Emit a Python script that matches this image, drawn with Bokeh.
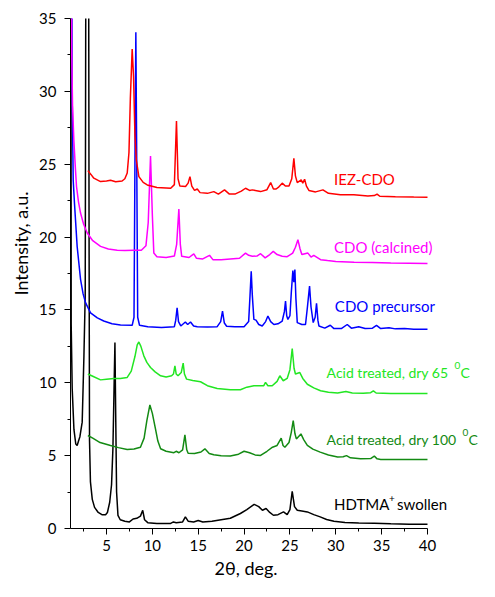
from bokeh.plotting import figure
from bokeh.models import Range1d, FixedTicker, Label, Title
from bokeh.embed import file_html
from bokeh.resources import INLINE

# ---- data ----
hdtma_x = [1.1, 1.15, 1.26, 1.45, 1.65, 1.8, 1.95, 2.1, 2.35, 2.54, 2.68, 2.75, 2.9, 3.05, 3.1, 3.15, 3.25, 3.45, 3.7, 4.1, 4.5, 4.9, 5.1, 5.35, 5.55, 5.7, 5.85, 5.92, 6.0, 6.1, 6.25, 6.5, 7.0, 7.5, 7.9, 8.3, 8.7, 8.95, 9.15, 9.5, 10.5, 12.0, 12.3, 12.6, 13.3, 13.6, 13.9, 14.5, 15.0, 15.5, 16.5, 17.5, 18.5, 19.6, 20.3, 21.1, 21.6, 22.0, 22.4, 22.8, 23.2, 23.7, 24.3, 24.7, 25.0, 25.25, 25.5, 25.8, 26.3, 26.9, 27.6, 28.3, 29.0, 29.8, 31.0, 32.5, 34.2, 36.0, 38.0, 40.0]
hdtma_y = [60, 14.0, 9.6, 6.8, 5.8, 5.7, 6.0, 6.3, 7.3, 11.85, 16.0, 40, 70, 40, 20, 6.0, 3.2, 2.0, 1.45, 1.1, 0.95, 0.95, 1.1, 1.8, 3.0, 5.5, 10.5, 12.76, 8.0, 2.5, 0.9, 0.6, 0.5, 0.45, 0.65, 0.7, 0.85, 1.25, 0.6, 0.4, 0.35, 0.35, 0.45, 0.4, 0.45, 0.8, 0.5, 0.45, 0.55, 0.45, 0.5, 0.6, 0.7, 1.03, 1.3, 1.66, 1.5, 1.25, 1.37, 1.1, 0.91, 0.95, 1.14, 0.95, 1.3, 2.55, 1.5, 1.25, 1.2, 1.14, 0.95, 0.8, 0.62, 0.5, 0.42, 0.38, 0.36, 0.32, 0.3, 0.3]

acid100_x = [2.97, 3.5, 4.3, 5.44, 6.3, 7.26, 8.0, 8.7, 9.1, 9.4, 9.73, 10.0, 10.34, 10.6, 10.9, 11.5, 12.35, 12.6, 12.9, 13.3, 13.55, 13.75, 13.9, 14.6, 15.3, 15.73, 16.2, 16.7, 17.5, 18.5, 19.4, 20.0, 20.6, 21.2, 21.8, 22.5, 23.1, 23.6, 24.05, 24.25, 24.45, 24.9, 25.15, 25.36, 25.55, 25.7, 26.2, 26.5, 26.9, 27.5, 28.3, 29.2, 30.2, 30.8, 31.17, 31.6, 32.7, 33.8, 34.2, 34.5, 34.9, 37.0, 40.0]
acid100_y = [6.38, 6.2, 5.9, 5.7, 5.55, 5.42, 5.45, 5.58, 6.2, 7.4, 8.48, 7.9, 6.84, 6.0, 5.47, 5.3, 5.2, 5.3, 5.2, 5.4, 6.43, 5.4, 5.17, 5.15, 5.25, 5.47, 5.15, 5.06, 5.0, 4.97, 5.1, 5.3, 5.2, 5.05, 5.01, 5.3, 5.58, 5.7, 6.2, 5.7, 5.58, 5.9, 6.6, 7.4, 6.5, 6.15, 6.49, 6.1, 5.7, 5.45, 5.24, 5.05, 4.9, 4.92, 5.0, 4.85, 4.78, 4.8, 4.97, 4.78, 4.74, 4.74, 4.74]

acid65_x = [2.97, 3.5, 4.35, 5.0, 5.8, 6.5, 7.26, 7.7, 8.1, 8.35, 8.53, 8.75, 9.07, 9.4, 9.8, 10.3, 10.9, 11.5, 12.1, 12.3, 12.46, 12.6, 12.8, 13.15, 13.36, 13.5, 13.73, 14.4, 15.25, 16.0, 17.07, 18.5, 19.6, 20.3, 21.07, 21.8, 22.15, 22.34, 22.6, 23.07, 23.6, 23.9, 24.27, 24.7, 25.0, 25.25, 25.45, 25.6, 26.08, 26.4, 26.9, 27.6, 28.34, 29.2, 30.2, 31.1, 31.8, 33.0, 33.8, 34.1, 34.4, 36.0, 38.0, 40.0]
acid65_y = [10.6, 10.45, 10.2, 10.25, 10.3, 10.3, 10.37, 10.8, 11.8, 12.6, 12.8, 12.5, 11.85, 11.4, 11.05, 10.75, 10.48, 10.4, 10.48, 10.6, 11.16, 10.6, 10.48, 10.7, 11.35, 10.6, 10.25, 10.15, 10.07, 9.8, 9.61, 9.52, 9.52, 9.7, 9.8, 9.8, 9.8, 10.03, 9.8, 9.8, 10.1, 10.48, 10.14, 10.3, 10.9, 12.35, 11.0, 10.6, 10.7, 10.3, 9.9, 9.65, 9.45, 9.35, 9.3, 9.4, 9.3, 9.28, 9.32, 9.45, 9.3, 9.27, 9.27, 9.27]

prec_x = [1.15, 1.25, 1.37, 1.51, 1.8, 2.17, 2.45, 2.71, 3.26, 4.0, 4.7, 5.6, 6.53, 7.8, 8.0, 8.1, 8.2, 8.3, 8.4, 8.6, 9.5, 11.0, 12.4, 12.55, 12.7, 12.85, 13.1, 13.6, 13.85, 14.16, 14.5, 14.9, 16.0, 17.07, 17.45, 17.65, 17.85, 18.1, 19.0, 20.0, 20.5, 20.65, 20.78, 20.9, 21.07, 21.3, 21.6, 21.98, 22.35, 22.6, 22.9, 23.25, 23.7, 24.16, 24.4, 24.52, 24.65, 24.78, 25.0, 25.15, 25.32, 25.43, 25.54, 25.65, 25.8, 26.3, 26.7, 26.9, 27.14, 27.3, 27.54, 27.75, 27.9, 28.05, 28.16, 28.8, 29.4, 29.8, 30.6, 31.25, 31.7, 32.5, 33.2, 34.0, 34.44, 34.9, 35.8, 36.5, 37.5, 38.5, 40.0]
prec_y = [60, 30, 23.9, 22.3, 19.36, 17.1, 16.1, 15.5, 14.8, 14.45, 14.24, 14.05, 13.97, 13.94, 14.5, 25.0, 34.06, 25.0, 14.5, 13.95, 13.85, 13.8, 13.85, 14.3, 15.15, 14.2, 13.9, 14.17, 14.0, 14.17, 13.9, 13.85, 13.82, 13.85, 14.2, 14.92, 14.1, 13.88, 13.85, 13.85, 14.2, 16.0, 17.66, 16.0, 14.35, 14.3, 14.0, 13.9, 14.2, 14.58, 14.2, 14.0, 14.05, 14.24, 14.9, 15.6, 14.6, 14.35, 14.6, 16.2, 17.7, 16.9, 17.77, 15.8, 14.13, 14.0, 14.0, 15.15, 16.63, 15.2, 14.13, 14.5, 15.45, 14.3, 13.9, 13.75, 13.95, 13.72, 13.72, 14.0, 13.75, 13.85, 13.72, 13.75, 13.94, 13.72, 13.78, 13.7, 13.72, 13.68, 13.67]

calc_x = [1.08, 1.2, 1.3, 1.44, 1.6, 1.73, 1.95, 2.17, 2.5, 2.9, 3.5, 4.35, 5.2, 6.17, 7.0, 7.98, 8.8, 9.3, 9.55, 9.8, 10.0, 10.16, 10.5, 11.5, 12.4, 12.65, 12.89, 13.05, 13.2, 14.0, 14.52, 14.8, 15.5, 16.23, 16.6, 17.5, 18.5, 19.5, 20.16, 20.5, 20.9, 21.4, 21.8, 22.3, 22.8, 23.18, 23.6, 24.16, 24.7, 25.3, 25.6, 25.87, 26.1, 26.3, 26.96, 27.3, 27.6, 28.34, 29.1, 30.0, 32.0, 34.0, 36.0, 38.0, 40.0]
calc_y = [60, 33, 29, 26.66, 24.8, 23.47, 22.4, 21.65, 20.9, 20.28, 19.75, 19.36, 19.18, 19.1, 19.07, 19.09, 19.1, 19.4, 21.0, 25.56, 21.5, 18.9, 18.65, 18.6, 18.7, 19.5, 21.92, 19.5, 18.68, 18.6, 18.85, 18.55, 18.5, 18.75, 18.45, 18.45, 18.5, 18.55, 18.9, 18.75, 18.68, 18.7, 18.86, 18.57, 18.8, 19.02, 18.8, 18.68, 18.65, 18.9, 19.3, 19.82, 19.2, 18.8, 18.9, 18.63, 18.75, 18.45, 18.39, 18.33, 18.28, 18.25, 18.22, 18.2, 18.18]

iez_x = [2.97, 3.3, 3.62, 4.35, 5.0, 5.44, 6.0, 6.7, 7.0, 7.26, 7.45, 7.6, 7.8, 7.95, 8.1, 8.25, 8.53, 9.0, 9.44, 10.5, 12.0, 12.4, 12.63, 12.8, 13.0, 13.62, 13.9, 14.1, 14.3, 14.6, 14.9, 15.2, 16.0, 16.7, 17.2, 17.87, 18.4, 19.0, 19.7, 20.16, 20.6, 20.9, 21.8, 22.5, 22.9, 23.2, 23.5, 23.8, 24.16, 24.5, 24.9, 25.2, 25.43, 25.6, 25.8, 26.23, 26.4, 26.6, 26.8, 27.07, 27.8, 28.6, 29.2, 30.5, 31.97, 33.5, 34.2, 34.5, 34.8, 36.5, 38.5, 40.0]
iez_y = [24.56, 24.3, 24.04, 23.81, 23.85, 23.9, 23.8, 23.85, 24.0, 24.4, 25.8, 29.5, 32.9, 31.0, 27.0, 25.3, 24.15, 23.75, 23.58, 23.4, 23.35, 23.6, 27.96, 24.0, 23.5, 23.47, 23.7, 24.15, 23.5, 23.2, 23.3, 23.05, 23.0, 23.12, 22.95, 23.24, 22.95, 22.95, 23.15, 23.35, 23.2, 23.24, 23.12, 23.25, 23.74, 23.3, 23.3, 23.45, 23.7, 23.5, 23.5, 24.0, 25.4, 24.2, 23.74, 23.92, 23.7, 23.97, 23.5, 23.2, 23.1, 23.24, 23.0, 22.9, 22.9, 22.82, 22.85, 22.95, 22.8, 22.77, 22.75, 22.74]

x_ticks = [5, 10, 15, 20, 25, 30, 35, 40]
x_minor = [2.5, 7.5, 12.5, 17.5, 22.5, 27.5, 32.5, 37.5]
y_ticks = [0, 5, 10, 15, 20, 25, 30, 35]
y_minor = [2.5, 7.5, 12.5, 17.5, 22.5, 27.5, 32.5]

FONT = "Lato"
C_RED, C_MAG, C_BLUE = "#ff0000", "#ff00ff", "#0000ff"
C_LG, C_DG, C_BK = "#22e622", "#138a13", "#000000"

p = figure(width=479, height=581, output_backend="svg", toolbar_location=None,
           x_range=Range1d(1.075, 45.67), y_range=Range1d(0, 35),
           min_border_left=70, min_border_right=0, min_border_top=18, min_border_bottom=53)
p.outline_line_color = None
p.grid.visible = False
p.background_fill_color = "white"

for xs, ys, c in [(hdtma_x, hdtma_y, C_BK), (acid100_x, acid100_y, C_DG), (acid65_x, acid65_y, C_LG),
                  (prec_x, prec_y, C_BLUE), (calc_x, calc_y, C_MAG), (iez_x, iez_y, C_RED)]:
    p.line(xs, ys, line_color=c, line_width=1.5)

p.xaxis.ticker = FixedTicker(ticks=x_ticks, minor_ticks=x_minor)
p.yaxis.ticker = FixedTicker(ticks=y_ticks, minor_ticks=y_minor)
p.xaxis.bounds = (1.075, 40)
for ax in (p.xaxis[0], p.yaxis[0]):
    ax.axis_line_color = "black"
    ax.major_tick_line_color = "black"
    ax.minor_tick_line_color = "black"
    ax.major_tick_in = 0
    ax.major_tick_out = 6
    ax.minor_tick_in = 0
    ax.minor_tick_out = 3
    ax.major_label_text_font = FONT
    ax.major_label_text_font_size = "15px"
    ax.major_label_text_color = "black"
p.xaxis.major_label_standoff = 5
p.yaxis.major_label_standoff = 8

p.add_layout(Title(text="Intensity, a.u.", align="left", offset=233, standoff=10,
                   text_font=FONT, text_font_size="18px", text_font_style="normal",
                   text_color="black"), "left")
p.add_layout(Title(text="2θ, deg.", align="left", offset=144, standoff=2,
                   text_font=FONT, text_font_size="18px", text_font_style="normal",
                   text_color="black"), "below")

def lab(x, y, t, c, size="15px", off=0, yoff=0):
    p.add_layout(Label(x=x, y=y, text=t, text_color=c, text_font=FONT, text_font_size=size,
                       text_baseline="middle", x_offset=off, y_offset=yoff))

lab(29.81, 24.0, "IEZ-CDO", C_RED)
lab(29.81, 19.3, "CDO (calcined)", C_MAG)
lab(29.9, 15.27, "CDO precursor", C_BLUE)
lab(29.0, 10.71, "Acid treated, dry 65", C_LG, size="14px")
lab(29.0, 10.71, "0", C_LG, size="10px", off=128, yoff=7)
lab(29.0, 10.71, "C", C_LG, size="14px", off=134)
lab(29.0, 6.08, "Acid treated, dry 100", C_DG, size="14px")
lab(29.0, 6.08, "0", C_DG, size="10px", off=136, yoff=7)
lab(29.0, 6.08, "C", C_DG, size="14px", off=142)
lab(29.81, 1.66, "HDTMA", C_BK)
lab(29.81, 1.66, "+", C_BK, size="10px", off=55, yoff=6)
lab(29.81, 1.66, "swollen", C_BK, off=63)

open("out.html", "w").write(file_html(p, INLINE))
